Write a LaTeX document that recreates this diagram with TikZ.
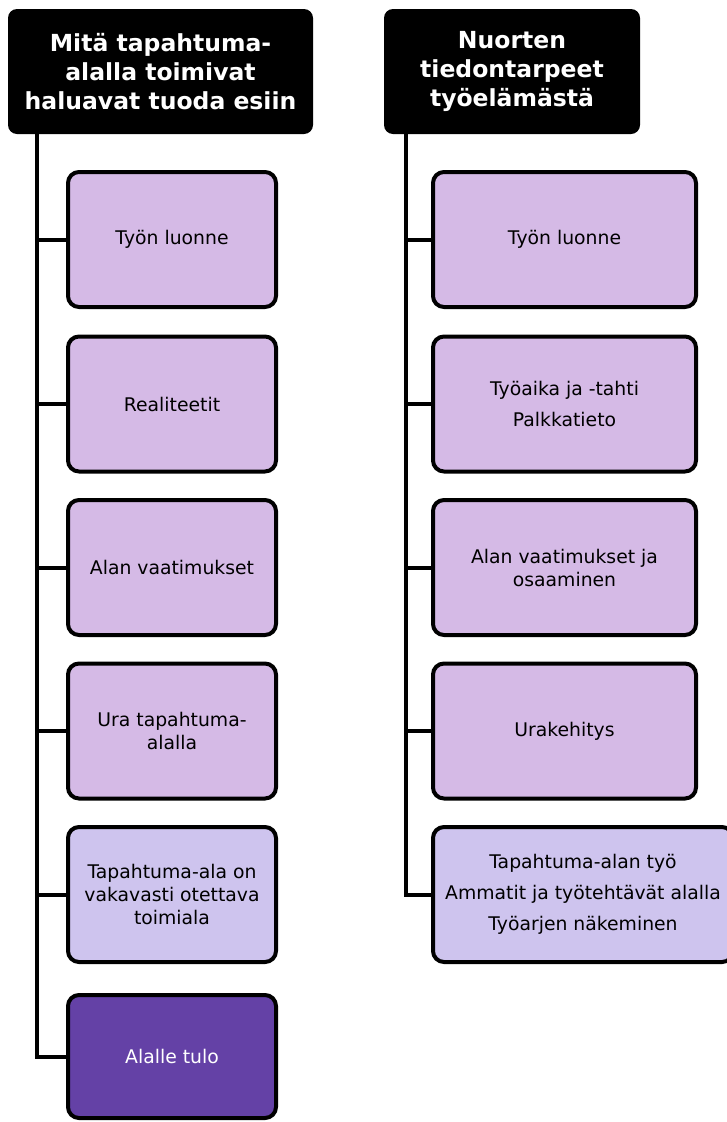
\documentclass[tikz,border=0pt]{standalone}
\usepackage{fontspec}
\setmainfont{DejaVu Sans}
\usetikzlibrary{positioning}
\definecolor{lav}{RGB}{213,186,230}
\definecolor{lavblue}{RGB}{206,196,238}
\definecolor{deeppurple}{RGB}{100,65,166}
\begin{document}
\begin{tikzpicture}[x=1pt,y=-1pt,
  head/.style={rectangle, rounded corners=9pt, fill=black, text=white,
               font=\bfseries\fontsize{23.5}{29}\selectfont, align=center,
               minimum height=125pt, inner sep=0pt},
  box/.style={rectangle, draw, line width=4pt, rounded corners=11pt,
              fill=lav, minimum height=135pt, align=center,
              font=\fontsize{18.8}{23}\selectfont, inner sep=0pt},
  link/.style={line width=4pt},
]
  \useasboundingbox (0,0) rectangle (726,1122);
  % headers
  \node[head, minimum width=305pt] (lhead) at (160.5,71.5)
    {Mitä tapahtuma-\\alalla toimivat\\haluavat tuoda esiin};
  \node[head, minimum width=256pt] (rhead) at (512,71.5)
    {Nuorten\\tiedontarpeet\\työelämästä};
  % left column
  \node[box, minimum width=208pt] (l1) at (172,239.5) {Työn luonne};
  \node[box, minimum width=208pt] (l2) at (172,404) {Realiteetit};
  \node[box, minimum width=208pt] (l3) at (172,567.5) {Alan vaatimukset};
  \node[box, minimum width=208pt] (l4) at (172,731) {Ura tapahtuma-\\alalla};
  \node[box, minimum width=208pt, fill=lavblue] (l5) at (172,894.5)
    {Tapahtuma-ala on\\vakavasti otettava\\toimiala};
  \node[box, minimum width=208pt, minimum height=123pt, fill=deeppurple,
        text=white] (l6) at (172,1056.5) {Alalle tulo};
  % right column
  \node[box, minimum width=263pt] (r1) at (564.5,239.5) {Työn luonne};
  \node[box, minimum width=263pt] (r2) at (564.5,404)
    {Työaika ja -tahti\\[8pt]Palkkatieto};
  \node[box, minimum width=263pt] (r3) at (564.5,567.5)
    {Alan vaatimukset ja\\osaaminen};
  \node[box, minimum width=263pt] (r4) at (564.5,731) {Urakehitys};
  \node[box, minimum width=300pt, fill=lavblue] (r5) at (583,894.5)
    {Tapahtuma-alan työ\\[8pt]Ammatit ja työtehtävät alalla\\[8pt]Työarjen näkeminen};
  % trunks
  \coordinate (ltop) at (37,134);
  \coordinate (rtop) at (406,134);
  \draw[link] (ltop) |- (l6.west);
  \draw[link] (rtop) |- (r5.west);
  \foreach \n in {l1,l2,l3,l4,l5}
    \draw[link] (ltop |- \n.west) -- (\n.west);
  \foreach \n in {r1,r2,r3,r4}
    \draw[link] (rtop |- \n.west) -- (\n.west);
\end{tikzpicture}
\end{document}
